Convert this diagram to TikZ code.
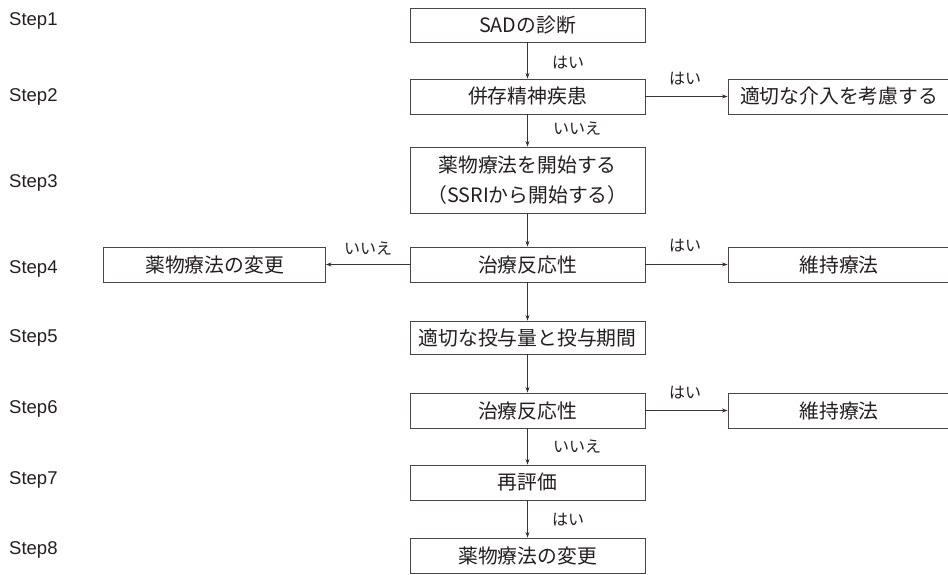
\documentclass[tikz,border=0pt]{standalone}
\usepackage{fontspec}
\setmainfont{Liberation Sans}
\newfontfamily\jp{Noto Sans CJK JP}
\usetikzlibrary{arrows.meta}
\definecolor{ink}{HTML}{231F20}
\definecolor{edge}{HTML}{4A4546}
\tikzset{
  box/.style={draw=edge, line width=0.9pt, fill=white, inner sep=0pt, minimum width=235pt, minimum height=35pt, text=ink, font=\jp\fontsize{19.8}{30}\selectfont, align=center},
  sidebox/.style={box, minimum width=222pt},
  lbl/.style={text=ink, font=\jp\fontsize{16}{17}\selectfont, inner sep=0pt},
  steplbl/.style={text=ink, font=\fontsize{18.5}{20}\selectfont, inner sep=0pt, anchor=west},
  conn/.style={draw=ink!90, line width=0.8pt, -{Stealth[length=5.5pt,width=4pt]}},
  plainconn/.style={draw=ink!90, line width=0.8pt}
}
\begin{document}
\begin{tikzpicture}[x=1pt,y=-1pt]
\useasboundingbox (0,0) rectangle (948,574);
\begin{scope}
\clip (0,0) rectangle (948,574);
% step labels
\node[steplbl] (s1) at (9,21) {Step1};
\node[steplbl] (s2) at (9,97) {Step2};
\node[steplbl] (s3) at (9,183) {Step3};
\node[steplbl] (s4) at (9,269) {Step4};
\node[steplbl] (s5) at (9,338) {Step5};
\node[steplbl] (s6) at (9,409) {Step6};
\node[steplbl] (s7) at (9,480) {Step7};
\node[steplbl] (s8) at (9,550) {Step8};
% main boxes
\node[box, minimum height=34pt] (b1) at (527.5,25) {SADの診断};
\node[box] (b2) at (527.5,96.5) {併存精神疾患};
\node[box, minimum height=66pt] (b3) at (527.5,180) {薬物療法を開始する\\（SSRIから開始する）};
\node[box] (b4) at (527.5,264.5) {治療反応性};
\node[box, minimum height=33pt] (b5) at (527.5,337.5) {適切な投与量と投与期間};
\node[box] (b6) at (527.5,410.5) {治療反応性};
\node[box] (b7) at (527.5,482.5) {再評価};
\node[box] (b8) at (527.5,555.5) {薬物療法の変更};
% side boxes
\node[sidebox] (r2) at (839,96.5) {適切な介入を考慮する};
\node[sidebox] (l4) at (214.5,264.5) {薬物療法の変更};
\node[sidebox] (r4) at (839,264.5) {維持療法};
\node[sidebox] (r6) at (839,410.5) {維持療法};
% connectors
\draw[conn] (b1) -- (b2);
\draw[conn] (b2) -- (b3);
\draw[conn] (b3) -- (b4);
\draw[conn] (b4) -- (b5);
\draw[conn] (b5) -- (b6);
\draw[conn] (b6) -- (b7);
\draw[conn] (b7) -- (b8);
\draw[conn] (b2) -- (r2);
\draw[conn] (b4) -- (l4);
\draw[conn] (b4) -- (r4);
\draw[conn] (b6) -- (r6);
% labels
\node[lbl] (y1) at (568,63) {はい};
\node[lbl] (y2) at (685,79) {はい};
\node[lbl] (n2) at (577,129) {いいえ};
\node[lbl] (n4) at (368,249) {いいえ};
\node[lbl] (y4) at (685,246) {はい};
\node[lbl] (y6) at (685,393) {はい};
\node[lbl] (n6) at (577,447) {いいえ};
\node[lbl] (y7) at (568,520) {はい};
\end{scope}
\end{tikzpicture}
\end{document}
